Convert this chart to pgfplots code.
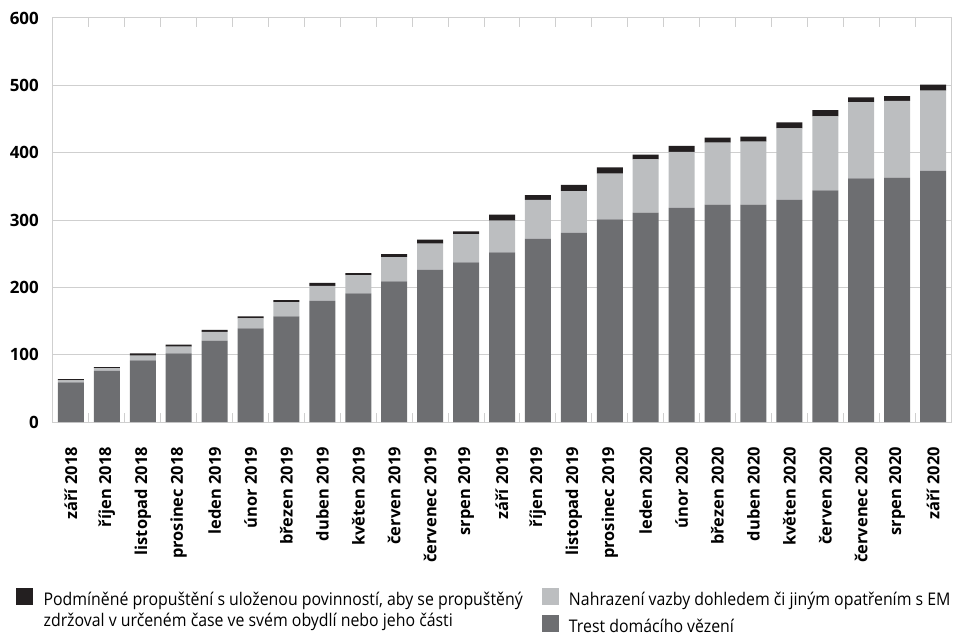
\documentclass[border=0pt]{standalone}
\usepackage{pgfplots}
\usepackage{pgfplotstable}
\pgfplotsset{compat=1.18}
\usepackage{fontspec}
\setmainfont{Open Sans}
\newfontfamily\legfont[FakeStretch=0.91]{Open Sans}
\definecolor{cdark}{HTML}{6D6E71}
\definecolor{clight}{HTML}{BCBEC0}
\definecolor{cblack}{HTML}{231F20}
\definecolor{cgrid}{HTML}{CFCFCF}

\pgfplotstableread{
x dark light black
1 59 3 1.5
2 76 4 1.5
3 91.5 7 3.5
4 102 10 3
5 121 13 3
6 139 15 3
7 157 21 3
8 180 22 4.5
9 191 27 3
10 209 36 4.5
11 226 39 6
12 237 42 4
13 252 47 9
14 272 58 7
15 281 62 9
16 301 68 9
17 311 79 7
18 318 83 9
19 323 92 7.5
20 323 93.5 7.5
21 330 106 9
22 344 110 9
23 362 113 7
24 363 114 7
25 373 119 9
}\data

\begin{document}
\begin{tikzpicture}
\useasboundingbox (-53bp,-219bp) rectangle (904bp,422bp);
\begin{axis}[
  scale only axis, width=898bp, height=404bp,
  ybar stacked, bar width=26bp,
  xmin=0.5, xmax=25.5, ymin=0, ymax=600,
  xtick={1,...,25},
  xticklabels={září 2018, říjen 2018, listopad 2018, prosinec 2018, leden 2019, únor 2019, březen 2019, duben 2019, květen 2019, červen 2019, červenec 2019, srpen 2019, září 2019, říjen 2019, listopad 2019, prosinec 2019, leden 2020, únor 2020, březen 2020, duben 2020, květen 2020, červen 2020, červenec 2020, srpen 2020, září 2020},
  minor xtick={1.5,2.5,...,24.5},
  ytick={0,100,...,600},
  /pgf/number format/assume math mode=true,
  major tick length=0pt, minor tick length=9bp, tick align=inside,
  tick style={cgrid, line width=1bp},
  ymajorgrids, grid style={cgrid, line width=1bp},
  axis line style={cgrid, line width=1bp},
  yticklabel style={font=\fontsize{17}{20}\selectfont\bfseries, inner sep=0pt, anchor=east, xshift=-14bp},
  xticklabel style={font=\fontsize{16.5}{19}\selectfont\bfseries, rotate=90, anchor=east, inner sep=0pt},
  xticklabel shift=25bp,
  legend columns=2,
  legend cell align=left,
  legend style={draw=none, fill=none, at={(-0.0412,-0.4109)}, anchor=north west,
    inner sep=0pt, nodes={inner sep=0pt},
    font=\legfont\fontsize{17.5}{21}\selectfont,
    /tikz/every odd column/.append style={column sep=11bp},
    /tikz/every even column/.append style={column sep=18bp},
    row sep=8bp},
]
\addplot[fill=cdark, draw=none, forget plot] table[x=x, y=dark]{\data};
\addplot[fill=clight, draw=none, forget plot] table[x=x, y=light]{\data};
\addplot[fill=cblack, draw=none, forget plot] table[x=x, y=black]{\data};

\addlegendimage{legend image code/.code={\fill[cblack] (0bp,-4.5bp) rectangle (16bp,11.5bp);}}
\addlegendentry{\raisebox{0pt}[\height][0pt]{\parbox[t]{480bp}{\raggedright Podmíněné propuštění s uloženou povinností, aby se propuštěný\\zdržoval v určeném čase ve svém obydlí nebo jeho části}}}
\addlegendimage{legend image code/.code={\fill[clight] (0bp,-4.5bp) rectangle (16bp,11.5bp);}}
\addlegendentry{Nahrazení vazby dohledem či jiným opatřením s EM}
\addlegendimage{empty legend}
\addlegendentry{}
\addlegendimage{legend image code/.code={\fill[cdark] (0bp,-4.5bp) rectangle (16bp,11.5bp);}}
\addlegendentry{Trest domácího vězení}
\end{axis}
\end{tikzpicture}
\end{document}
